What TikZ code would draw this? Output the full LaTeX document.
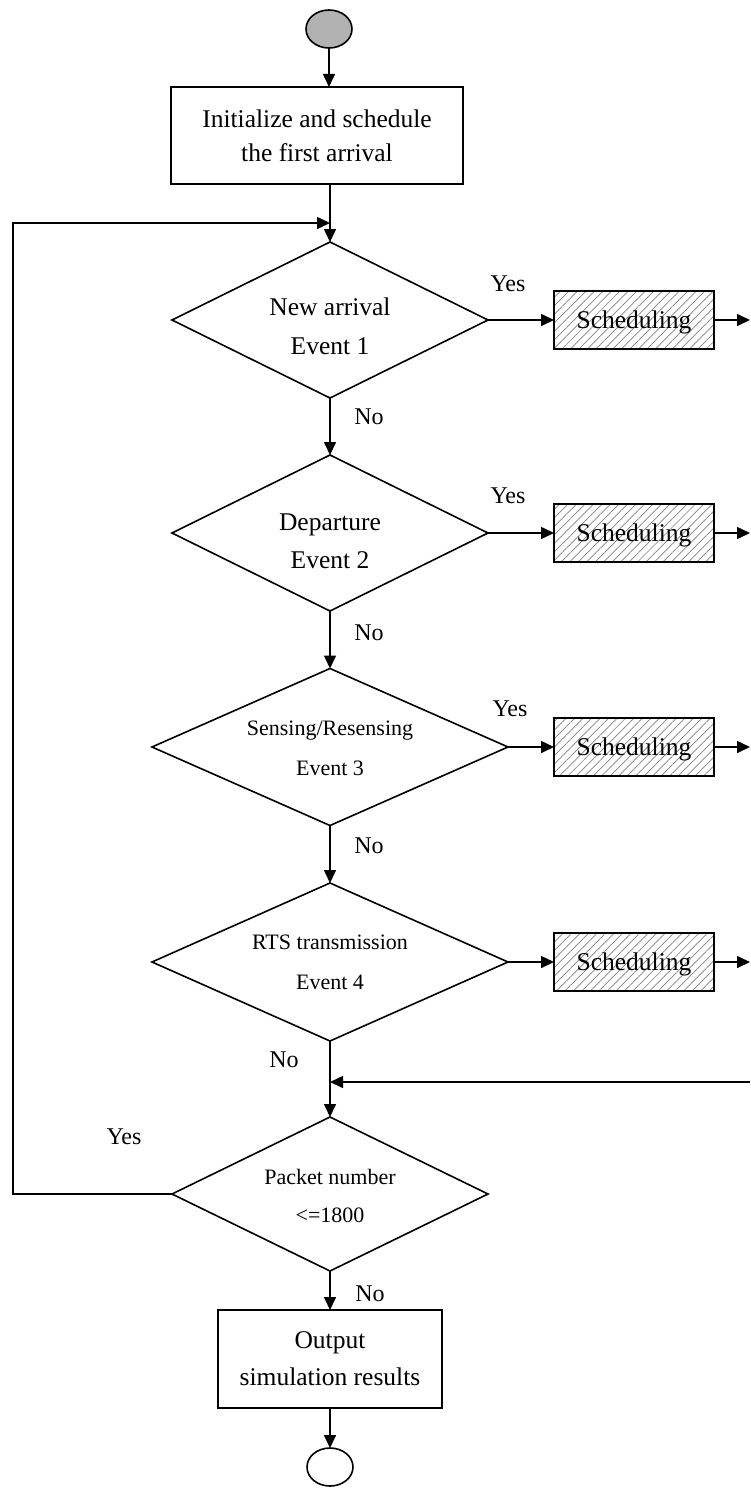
\documentclass[tikz,border=0pt]{standalone}
\usepackage{fontspec}
\setmainfont{Liberation Serif}
\usetikzlibrary{shapes.geometric,arrows.meta,patterns.meta}
\begin{document}
\begin{tikzpicture}[x=1pt,y=-1pt,
  line width=1.6pt,
  flow/.style={-{Triangle[length=13pt,width=12pt]}},
  decision/.style={draw,diamond,inner sep=0pt,outer sep=0pt},
  procbox/.style={draw,rectangle,inner sep=0pt,outer sep=0pt,align=center},
  schedbox/.style={draw,rectangle,minimum width=160pt,minimum height=58pt,
    inner sep=0pt,outer sep=0pt,text height=17pt,text depth=0pt,
    font=\fontsize{25.5}{30}\selectfont,
    pattern={Lines[angle=45,distance=6pt,line width=0.7pt]},pattern color=black!50},
  bigtxt/.style={inner sep=0pt,text height=17pt,text depth=0pt,font=\fontsize{25.5}{30}\selectfont},
  smalltxt/.style={inner sep=0pt,text height=14.5pt,text depth=0pt,font=\fontsize{22}{26}\selectfont},
  lbl/.style={inner sep=0pt,text height=16pt,text depth=0pt,font=\fontsize{24}{28}\selectfont},
  terminal/.style={draw,ellipse,minimum width=46pt,minimum height=38pt,inner sep=0pt,outer sep=0pt}
]
\useasboundingbox (0,0) rectangle (750,1488);

% start / end terminals
\node[terminal,fill=gray!60] (start) at (329,29) {};
\node[terminal] (stop) at (330,1467) {};

% process boxes
\node[procbox,minimum width=292pt,minimum height=97pt,
      font=\fontsize{25.5}{34}\selectfont] (init) at (317,135.5)
      {Initialize and schedule\\the first arrival};
\node[procbox,minimum width=224pt,minimum height=98pt,
      font=\fontsize{25.5}{37}\selectfont] (out) at (330,1359)
      {Output\\simulation results};

% decisions
\node[decision,minimum width=316pt,minimum height=156pt] (d1) at (330,320) {};
\node[decision,minimum width=316pt,minimum height=156pt] (d2) at (330,533) {};
\node[decision,minimum width=356pt,minimum height=157pt] (d3) at (330,747) {};
\node[decision,minimum width=356pt,minimum height=158pt] (d4) at (330,962) {};
\node[decision,minimum width=316pt,minimum height=154pt] (d5) at (330,1194) {};

% decision texts
\node[bigtxt] (t1a) at (330,307) {New arrival};
\node[bigtxt] (t1b) at (330,346) {Event 1};
\node[bigtxt] (t2a) at (330,522) {Departure};
\node[bigtxt] (t2b) at (330,560) {Event 2};
\node[smalltxt] (t3a) at (330,728) {Sensing/Resensing};
\node[smalltxt] (t3b) at (330,768) {Event 3};
\node[smalltxt] (t4a) at (330,942) {RTS transmission};
\node[smalltxt] (t4b) at (330,982) {Event 4};
\node[smalltxt] (t5a) at (330,1177) {Packet number};
\node[smalltxt] (t5b) at (330,1215) {<=1800};

% scheduling boxes
\node[schedbox] (s1) at (634,320) {Scheduling};
\node[schedbox] (s2) at (634,533) {Scheduling};
\node[schedbox] (s3) at (634,747) {Scheduling};
\node[schedbox] (s4) at (634,962) {Scheduling};

% branch labels
\node[lbl] (y1) at (508,283) {Yes};
\node[lbl] (y2) at (508,495) {Yes};
\node[lbl] (y3) at (510,708) {Yes};
\node[lbl] (y5) at (124,1136) {Yes};
\node[lbl] (n1) at (369,416) {No};
\node[lbl] (n2) at (369,632) {No};
\node[lbl] (n3) at (369,845) {No};
\node[lbl] (n4) at (284,1059) {No};
\node[lbl] (n5) at (370,1293) {No};

% helper coordinates
\coordinate (merge1) at (330,223);
\coordinate (loopx) at (13,0);
\coordinate (e1) at (750,320);
\coordinate (e2) at (750,533);
\coordinate (e3) at (750,747);
\coordinate (e4) at (750,962);
\coordinate (ret) at (750,1082);

% main flow
\draw[flow] (start) -- (start |- init.north);
\draw[flow] (merge1 |- init.south) -- (d1.north);
\draw[flow] (d1.south) -- (d2.north);
\draw[flow] (d2.south) -- (d3.north);
\draw[flow] (d3.south) -- (d4.north);
\draw[flow] (d4.south) -- (d5.north);
\draw[flow] (d5.south) -- (out.north);
\draw[flow] (out.south) -- (stop.north);

% loop back to the first decision
\draw[flow] (d5.west) -- (d5.west -| loopx) -- (merge1 -| loopx) -- (merge1);

% event branches
\draw[flow] (d1.east) -- (s1.west);
\draw[flow] (d2.east) -- (s2.west);
\draw[flow] (d3.east) -- (s3.west);
\draw[flow] (d4.east) -- (s4.west);
\draw[flow] (s1.east) -- (e1);
\draw[flow] (s2.east) -- (e2);
\draw[flow] (s3.east) -- (e3);
\draw[flow] (s4.east) -- (e4);

% return from the scheduling branches
\draw[flow] (ret) -- (ret -| d5.north);
\end{tikzpicture}
\end{document}
